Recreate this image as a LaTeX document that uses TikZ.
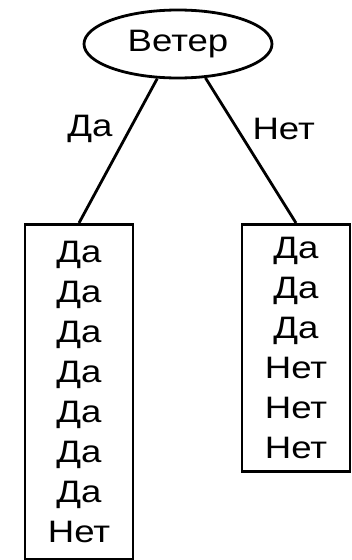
\documentclass[tikz,border=0pt]{standalone}
\usepackage{fontspec}
\setmainfont{Liberation Sans}[FakeStretch=1.18]
\usetikzlibrary{shapes.geometric}
\begin{document}
\begin{tikzpicture}[x=1pt,y=-1pt,
  line width=2.8pt,
  txt/.style={font=\fontsize{31}{40}\selectfont},
  root/.style={ellipse,draw,minimum width=188pt,minimum height=68pt,inner sep=0pt,txt},
  leaf/.style={draw,minimum width=108pt,anchor=north,inner sep=0pt,align=center,txt},
  lbl/.style={inner sep=0pt,txt}]
\useasboundingbox (0,0) rectangle (352,560);
\node[root] (wind) at (178,44) {Ветер};
\node[leaf,minimum height=335pt] (yes) at (79,223)
  {Да\\Да\\Да\\Да\\Да\\Да\\Да\\Нет};
\node[leaf,minimum height=247pt] (no) at (296,223)
  {Да\\Да\\Да\\Нет\\Нет\\Нет};
\draw (wind.239) -- node[lbl,pos=0.35,left=16pt] {Да} (yes.north);
\draw (wind.309) -- node[lbl,pos=0.35,right=14pt] {Нет} (no.north);
\end{tikzpicture}
\end{document}
